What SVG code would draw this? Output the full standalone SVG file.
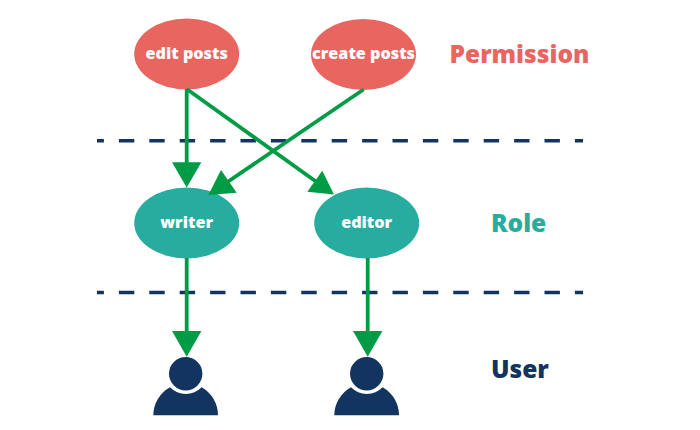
<svg xmlns="http://www.w3.org/2000/svg" width="700" height="430" viewBox="0 0 700 430">
<style>
.n{font-family:"Open Sans","Noto Sans",sans-serif;font-weight:800;font-size:16.2px;fill:#fff;text-anchor:middle}
.t{font-family:"Open Sans","Noto Sans",sans-serif;font-weight:800;font-size:24.5px}
.p{fill:#e9655f}.r{fill:#28aca0}.u{fill:#12345f}
.d{stroke:#12345f;stroke-width:3.6;stroke-dasharray:15.4 15;stroke-dashoffset:8.5;fill:none}
.c{stroke:#009b45;stroke-width:3.8;fill:none}
.h{fill:#009b45}
</style>
<rect width="700" height="430" fill="#fff"/>
<g id="dividers">
<line class="d" x1="97" y1="140.7" x2="583" y2="140.7"/>
<line class="d" x1="97" y1="292.5" x2="583" y2="292.5"/>
</g>
<g id="node-edit-posts"><ellipse class="p" cx="186.7" cy="54" rx="52.5" ry="35.5"/><text class="n" x="186.7" y="59">edit posts</text></g>
<g id="node-create-posts"><ellipse class="p" cx="363.5" cy="54.5" rx="52.5" ry="35.5"/><text class="n" x="363.5" y="59">create posts</text></g>
<g id="node-writer"><ellipse class="r" cx="186.7" cy="223" rx="52.5" ry="35.5"/><text class="n" x="186.7" y="228">writer</text></g>
<g id="node-editor"><ellipse class="r" cx="366.7" cy="223" rx="52.5" ry="35.5"/><text class="n" x="366.7" y="228">editor</text></g>
<g id="user-1"><circle class="u" cx="185.7" cy="373.7" r="16.7"/><path class="u" d="M153.3 415.3A32.4 32.4 0 0 1 170 387.2A22 22 0 0 0 201.6 387.2A32.4 32.4 0 0 1 218 415.3Z"/></g>
<g id="user-2"><circle class="u" cx="366.7" cy="373.7" r="16.7"/><path class="u" d="M334.3 415.3A32.4 32.4 0 0 1 351 387.2A22 22 0 0 0 382.6 387.2A32.4 32.4 0 0 1 399 415.3Z"/></g>
<g id="connectors">
<line class="c" x1="186.7" y1="89" x2="186.7" y2="165"/>
<polygon class="h" points="172,162.3 201.4,162.3 186.7,187.5"/>
<line class="c" x1="363.5" y1="89.5" x2="226" y2="183"/>
<polygon class="h" points="208.3,195 221,170 236.7,192.7"/>
<line class="c" x1="186.7" y1="89" x2="318" y2="183"/>
<polygon class="h" points="334,194.5 322.3,170.7 307.3,191.7"/>
<line class="c" x1="186.7" y1="258" x2="186.7" y2="334"/>
<polygon class="h" points="172,331 201.4,331 186.7,356.7"/>
<line class="c" x1="367.7" y1="258" x2="367.7" y2="334"/>
<polygon class="h" points="353,331 382.4,331 367.7,356.7"/>
</g>
<text class="t p" x="449.5" y="63">Permission</text>
<text class="t r" x="491" y="232">Role</text>
<text class="t u" x="491" y="378">User</text>
</svg>
